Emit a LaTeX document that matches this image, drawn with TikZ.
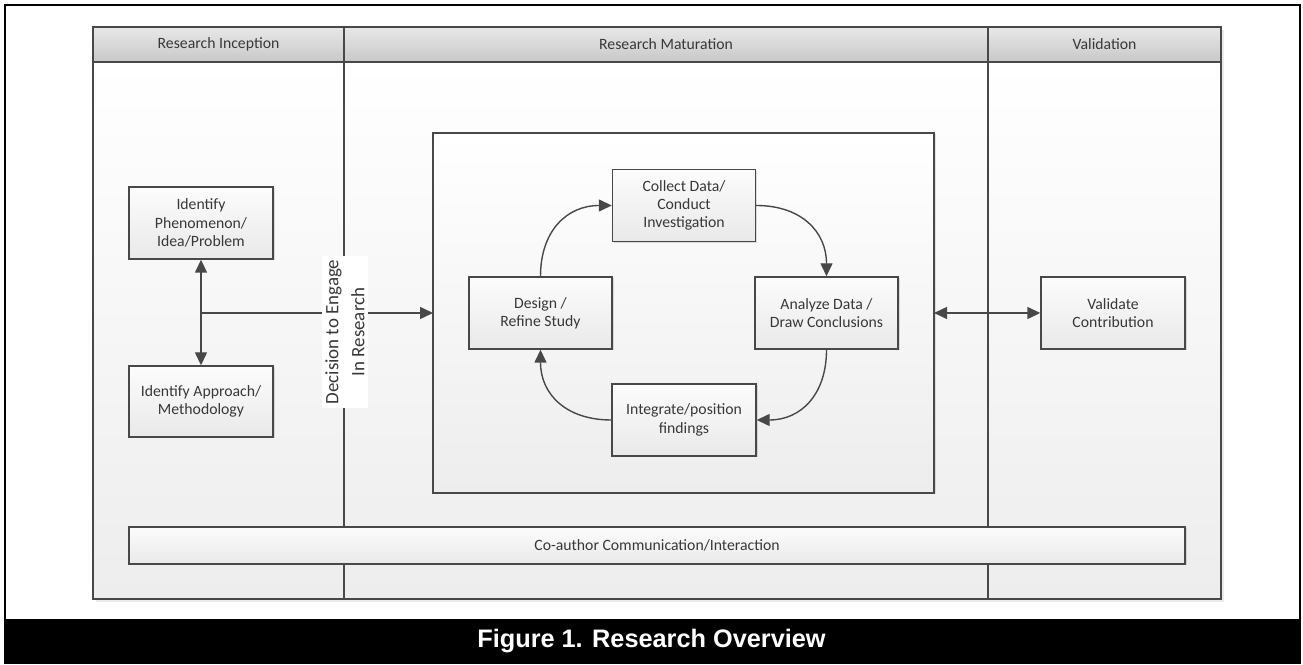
\documentclass[tikz,border=0pt]{standalone}
\usepackage{fontspec}
\setmainfont{Carlito}
\newfontfamily\capfont{Liberation Sans}
\usetikzlibrary{arrows.meta,shadows}
\definecolor{linec}{HTML}{484848}
\definecolor{textc}{HTML}{383838}
\definecolor{hdrtop}{HTML}{E8E8E8}
\definecolor{hdrbot}{HTML}{C8C8C8}
\definecolor{lanebot}{HTML}{EDEDED}
\definecolor{boxtop}{HTML}{FCFCFC}
\definecolor{boxbot}{HTML}{E9E9E9}
\tikzset{
  boxfont/.style={font=\fontsize{15.8}{18.3}\selectfont},
  procbox/.style={draw=linec, line width=1.4bp, top color=boxtop, bottom color=boxbot,
    minimum width=144bp, minimum height=72bp, align=center, text=textc, inner sep=0pt,
    boxfont, drop shadow={shadow xshift=1.5bp, shadow yshift=-1.5bp, fill=black, opacity=0.12}},
  hdrtext/.style={text=textc, boxfont, inner sep=0pt},
  conn/.style={draw=linec, line width=1.4bp},
  tip/.tip={Triangle[length=13bp,width=12bp]},
  lanebox/.style={draw=linec, line width=1.4bp},
}
\begin{document}
\begin{tikzpicture}[x=1bp,y=1bp]
\useasboundingbox (0,0) rectangle (1303,664);
% outer frame
\draw[line width=2.2bp] (5,0) -- (5,659) -- (1300,659) -- (1300,0);
% pool shadow
\fill[black,opacity=0.08] (96,62) rectangle (1224,634);
% lanes body
\shade[top color=white, bottom color=lanebot] (93,65) rectangle (1221,602);
% header
\shade[top color=hdrtop, bottom color=hdrbot] (93,602) rectangle (1221,637);
\draw[lanebox] (93,65) rectangle (1221,637);
\draw[lanebox] (93,602) -- (1221,602);
\draw[lanebox] (344,65) -- (344,637);
\draw[lanebox] (988,65) -- (988,637);
\node[hdrtext] (h1) at (218.5,619.5) {Research Inception};
\node[hdrtext] (h2) at (666,619.5) {Research Maturation};
\node[hdrtext] (h3) at (1104.5,619.5) {Validation};
% inner box
\draw[draw=linec, line width=1.3bp, top color=white, bottom color=lanebot,
  drop shadow={shadow xshift=1.5bp, shadow yshift=-1.5bp, fill=black, opacity=0.10}]
  (433,171) rectangle (934,531);
\coordinate (innerW) at (433,351);
\coordinate (innerE) at (934,351);
% nodes
\node[procbox] (phen) at (201,441) {Identify\\Phenomenon/\\Idea/Problem};
\node[procbox, minimum height=71bp] (appr) at (201,262.5) {Identify Approach/\\Methodology};
\node[procbox, minimum width=143bp] (collect) at (684,458.5) {Collect Data/\\Conduct\\Investigation};
\node[procbox, minimum width=143bp] (design) at (540.5,351) {Design /\\Refine Study};
\node[procbox, minimum width=143bp] (analyze) at (826.5,351) {Analyze Data /\\Draw Conclusions};
\node[procbox, minimum width=144bp] (integ) at (684,244) {Integrate/position\\findings};
\node[procbox] (valid) at (1113,351) {Validate\\Contribution};
\node[procbox, minimum width=1056bp, minimum height=37bp] (coauth) at (657,118.5) {Co-author Communication/Interaction};
% connectors
\coordinate (branch) at (201,351);
\draw[conn, {tip}-{tip}] (phen.south) -- (appr.north);
\draw[conn, -{tip}] (branch) -- (innerW);
\draw[conn, {tip}-{tip}] (innerE) -- (valid.west);
\draw[conn, -{tip}] (design.north) to[out=90,in=180,looseness=1.15] (collect.west);
\draw[conn, -{tip}] (collect.east) to[out=0,in=90,looseness=1.15] (analyze.north);
\draw[conn, -{tip}] (analyze.south) to[out=-90,in=0,looseness=1.15] (integ.east);
\draw[conn, -{tip}] (integ.west) to[out=180,in=-90,looseness=1.15] (design.south);
% rotated label
\node[fill=white, rotate=90, text=textc, align=center, inner sep=0pt,
  minimum width=152bp, minimum height=46bp, font=\fontsize{19}{26}\selectfont]
  (decide) at (345,332) {Decision to Engage\\In Research};
% caption
\fill[black] (4,0) rectangle (1301,45);
\node[text=white, font=\capfont\bfseries\fontsize{25.4}{30}\selectfont, inner sep=0pt] (cap) at (651.5,22.5) {Figure 1. Research Overview};
\end{tikzpicture}
\end{document}
